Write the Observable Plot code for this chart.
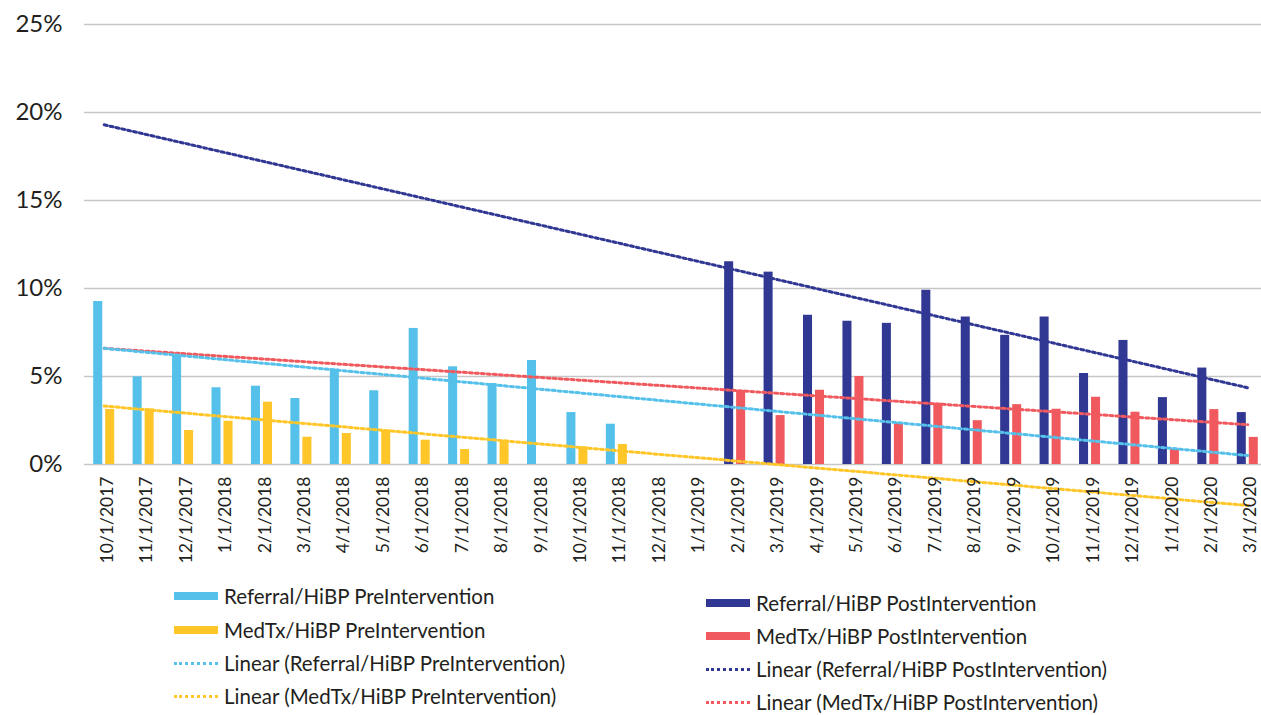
<!DOCTYPE html>
<html>
<head>
<meta charset="utf-8">
<script src="https://cdn.jsdelivr.net/npm/d3@7"></script>
<script src="https://cdn.jsdelivr.net/npm/@observablehq/plot@0.6"></script>
<style>
  html, body { margin: 0; padding: 0; background: #fff; overflow: hidden; }
  #wrap { position: relative; width: 1261px; height: 715px; overflow: hidden; font-family: Lato, "Open Sans", sans-serif; color: #231f20; }
  #chart { position: absolute; left: 0; top: 0; width: 1268px; }
  #chart svg { max-width: none !important; }
  .leg { position: absolute; display: flex; align-items: center; font-size: 20.5px; white-space: nowrap; height: 30px; line-height: 30px; }
  .sw { display: inline-block; width: 44px; margin-right: 6px; }
  .sw.bar { height: 8px; }
  .sw.dot { height: 0; border-top: 3px dotted; }
</style>
</head>
<body>
<div id="wrap">
  <div id="chart"></div>
  <div id="legend"></div>
</div>
<script>
// ---- data ----
const categories = ["10/1/2017","11/1/2017","12/1/2017","1/1/2018","2/1/2018","3/1/2018","4/1/2018","5/1/2018","6/1/2018","7/1/2018","8/1/2018","9/1/2018","10/1/2018","11/1/2018","12/1/2018","1/1/2019","2/1/2019","3/1/2019","4/1/2019","5/1/2019","6/1/2019","7/1/2019","8/1/2019","9/1/2019","10/1/2019","11/1/2019","12/1/2019","1/1/2020","2/1/2020","3/1/2020"];

// values in percent, null = no bar
const referralPre = [9.26,4.98,6.21,4.36,4.45,3.75,5.42,4.19,7.73,5.55,4.60,5.91,2.95,2.29,null,null,null,null,null,null,null,null,null,null,null,null,null,null,null,null];
const medTxPre    = [3.13,3.16,1.93,2.46,3.54,1.55,1.76,1.95,1.38,0.85,1.38,null,1.00,1.14,null,null,null,null,null,null,null,null,null,null,null,null,null,null,null,null];
const referralPost = [null,null,null,null,null,null,null,null,null,null,null,null,null,null,null,null,11.52,10.93,8.48,8.14,8.02,9.90,8.38,7.34,8.38,5.17,7.05,3.80,5.48,2.95];
const medTxPost    = [null,null,null,null,null,null,null,null,null,null,null,null,null,null,null,null,4.20,2.78,4.22,5.00,2.34,3.48,2.49,3.40,3.14,3.82,2.97,0.86,3.12,1.54];

// linear trend lines (values read at first and last category)
const trendCats = ["10/1/2017","3/1/2020"];
const trendReferralPre  = [6.60, 0.51];
const trendMedTxPre     = [3.32, -2.33];
const trendReferralPost = [19.30, 4.36];
const trendMedTxPost    = [6.60, 2.26];

const yTicks = [0,5,10,15,20,25];

const seriesNames = ["Referral/HiBP PreIntervention","MedTx/HiBP PreIntervention","Referral/HiBP PostIntervention","MedTx/HiBP PostIntervention"];
const colors = {
  refPre: "#55c1ea",
  medPre: "#ffc629",
  refPost: "#313893",
  medPost: "#f05a5e"
};

// ---- build tables ----
const toRows = arr => categories.map((c,i) => ({cat: c, v: arr[i]})).filter(d => d.v != null);
const trendRows = arr => trendCats.map((c,i) => ({cat: c, v: arr[i]}));

const leftInset = {insetLeft: 9.2, insetRight: 21.2};
const rightInset = {insetLeft: 21.2, insetRight: 9.2};
const dotStyle = {strokeWidth: 3, strokeDasharray: "3,3"};

const plot = Plot.plot({
  width: 1268,
  height: 574,
  marginLeft: 84,
  marginRight: 1,
  marginTop: 24,
  marginBottom: 110,
  style: {fontFamily: "Lato, 'Open Sans', sans-serif", color: "#231f20", background: "transparent", maxWidth: "none"},
  x: {type: "band", domain: categories, padding: 0, round: false, label: null},
  y: {domain: [0,25], label: null},
  marks: [
    Plot.ruleY(yTicks, {stroke: "#c6c6c6", strokeWidth: 1.5}),
    Plot.barY(toRows(referralPre), {x: "cat", y: "v", fill: colors.refPre, ...leftInset}),
    Plot.barY(toRows(medTxPre), {x: "cat", y: "v", fill: colors.medPre, ...rightInset}),
    Plot.barY(toRows(referralPost), {x: "cat", y: "v", fill: colors.refPost, ...leftInset}),
    Plot.barY(toRows(medTxPost), {x: "cat", y: "v", fill: colors.medPost, ...rightInset}),
    Plot.line(trendRows(trendMedTxPost), {x: "cat", y: "v", stroke: colors.medPost, ...dotStyle}),
    Plot.line(trendRows(trendReferralPre), {x: "cat", y: "v", stroke: colors.refPre, ...dotStyle}),
    Plot.line(trendRows(trendMedTxPre), {x: "cat", y: "v", stroke: colors.medPre, ...dotStyle}),
    Plot.line(trendRows(trendReferralPost), {x: "cat", y: "v", stroke: colors.refPost, ...dotStyle}),
    Plot.axisY({ticks: yTicks, tickSize: 0, tickPadding: 22, fontSize: 24, tickFormat: d => d + "%"}),
    Plot.axisX({tickSize: 0, tickPadding: 12, tickRotate: -90, fontSize: 17.5, dx: 3})
  ]
});
plot.style.maxWidth = "none";
document.getElementById("chart").appendChild(plot);

// ---- legend ----
const legendItems = [
  {label: seriesNames[0], color: colors.refPre, kind: "bar", left: 174, cy: 596},
  {label: seriesNames[1], color: colors.medPre, kind: "bar", left: 174, cy: 630},
  {label: "Linear (" + seriesNames[0] + ")", color: colors.refPre, kind: "dot", left: 174, cy: 663},
  {label: "Linear (" + seriesNames[1] + ")", color: colors.medPre, kind: "dot", left: 174, cy: 696},
  {label: seriesNames[2], color: colors.refPost, kind: "bar", left: 706, cy: 603},
  {label: seriesNames[3], color: colors.medPost, kind: "bar", left: 706, cy: 636},
  {label: "Linear (" + seriesNames[2] + ")", color: colors.refPost, kind: "dot", left: 706, cy: 669},
  {label: "Linear (" + seriesNames[3] + ")", color: colors.medPost, kind: "dot", left: 706, cy: 702}
];
const leg = document.getElementById("legend");
for (const it of legendItems) {
  const div = document.createElement("div");
  div.className = "leg";
  div.style.left = it.left + "px";
  div.style.top = (it.cy - 15) + "px";
  const sw = document.createElement("span");
  sw.className = "sw " + it.kind;
  if (it.kind === "bar") sw.style.background = it.color; else sw.style.borderTopColor = it.color;
  div.appendChild(sw);
  const t = document.createElement("span");
  t.textContent = it.label;
  div.appendChild(t);
  leg.appendChild(div);
}
</script>
</body>
</html>
